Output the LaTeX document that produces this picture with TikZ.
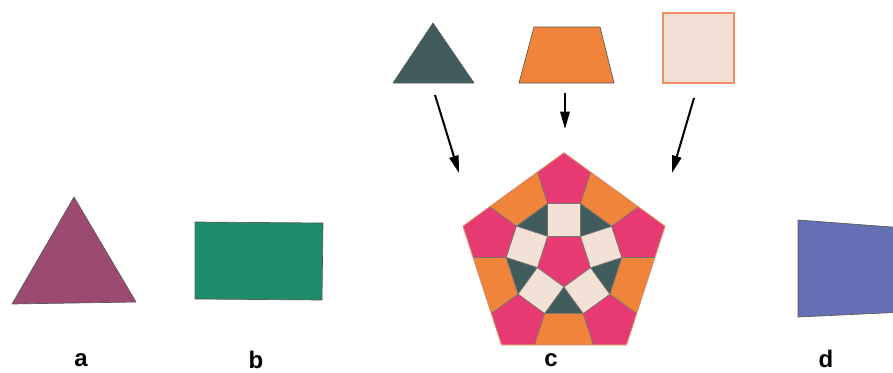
\documentclass[tikz,border=0pt]{standalone}
\usepackage{fontspec}
\setmainfont{Liberation Sans}
\usetikzlibrary{calc,arrows.meta}
\definecolor{tilepink}{HTML}{E83A72}
\definecolor{tileorange}{HTML}{F0843A}
\definecolor{tiledark}{HTML}{405C5C}
\definecolor{tilecream}{HTML}{F4E1D5}
\definecolor{squareedge}{HTML}{F28C66}
\definecolor{shapepurple}{HTML}{9C4A72}
\definecolor{shapegreen}{HTML}{1E8C6A}
\definecolor{shapeblue}{HTML}{6470B3}
\begin{document}
\begin{tikzpicture}[x=0.75pt,y=-0.75pt,
  piece/.style={draw=black!65, line width=0.5pt, line join=round},
  tile/.style={draw=black!55, line width=0.45pt, line join=round},
  lbl/.style={font=\fontsize{18}{18}\selectfont\bfseries, anchor=base, inner sep=0pt},
  pointer/.style={line width=1.5pt, -{Triangle[length=13pt,width=7pt]}}]
\useasboundingbox (0,0) rectangle (893,372);
\fill[white] (0,0) rectangle (893,372);

% (a) triangle
\draw[piece, fill=shapepurple] (12,304) -- (74,197) -- (136,302) -- cycle;
% (b) rectangle
\draw[piece, fill=shapegreen] (195,222) -- (323,223) -- (322,300) -- (195,299) -- cycle;
% (d) quadrilateral running off the right edge
\begin{scope}
  \clip (0,0) rectangle (893,372);
  \draw[piece, fill=shapeblue] (798,220) -- (905,228) -- (905,312) -- (798,317) -- cycle;
\end{scope}

% the three tile types
\draw[piece, fill=tiledark] (393,83) -- (433,23) -- (474,83) -- cycle;
\draw[piece, fill=tileorange] (519,83) -- (534,27) -- (600,27) -- (614,83) -- cycle;
\draw[line width=1.5pt, draw=squareedge, fill=tilecream] (663,13) rectangle (734,83);

% arrows from the tiles to the tiling
\coordinate (t1) at (435,95);  \coordinate (h1) at (459,173);
\coordinate (t2) at (565,93);  \coordinate (h2) at (565,129);
\coordinate (t3) at (694,98);  \coordinate (h3) at (672,173);
\draw[pointer] (t1) -- (h1);
\draw[pointer] (t2) -- (h2);
\draw[pointer] (t3) -- (h3);

% (c) pentagonal tiling
\begin{scope}[shift={(564,259)}, yscale=-1]
  \pgfmathsetmacro{\s}{32.9}
  \pgfmathsetmacro{\r}{\s/(2*sin(36))}
  \pgfmathsetmacro{\ap}{\r*cos(36)}
  \pgfmathsetmacro{\cc}{2*\ap+\s}
  \pgfmathsetmacro{\R}{\cc+\r}
  % central pentagon
  \draw[tile, fill=tilepink] (54:\r) -- (126:\r) -- (198:\r) -- (270:\r) -- (342:\r) -- cycle;
  \foreach \k in {0,...,4}{
    \pgfmathsetmacro{\f}{90+72*\k}
    % square on an edge of the central pentagon
    \draw[tile, fill=tilecream] (\f-36:\r) -- (\f+36:\r)
      -- ($(\f+36:\r)+(\f:\s)$) -- ($(\f-36:\r)+(\f:\s)$) -- cycle;
    % triangle between two squares
    \draw[tile, fill=tiledark] (\f+36:\r) -- ($(\f+36:\r)+(\f:\s)$)
      -- ($(\f+36:\r)+(\f+72:\s)$) -- cycle;
    % outer pentagon on the square
    \draw[tile, fill=tilepink] ($(\f:\cc)+(\f:\r)$) -- ($(\f:\cc)+(\f+72:\r)$)
      -- ($(\f:\cc)+(\f+144:\r)$) -- ($(\f:\cc)+(\f+216:\r)$)
      -- ($(\f:\cc)+(\f+288:\r)$) -- cycle;
    % trapezoid on the triangle
    \draw[tile, fill=tileorange] ($(\f:\cc)+(\f+144:\r)$) -- ($(\f:\cc)+(\f+72:\r)$)
      -- ($(\f+72:\cc)+(\f:\r)$) -- ($(\f+72:\cc)+(\f-72:\r)$) -- cycle;
  }
  % rim of the whole tiling
  \draw[squareedge, line width=0.6pt, line join=round]
    (90:\R) -- (162:\R) -- (234:\R) -- (306:\R) -- (18:\R) -- cycle;
\end{scope}

% labels
\node[lbl] (la) at (81,366) {a};
\node[lbl] (lb) at (256,368) {b};
\node[lbl] (lc) at (551,366) {c};
\node[lbl] (ld) at (826,367) {d};
\end{tikzpicture}
\end{document}
